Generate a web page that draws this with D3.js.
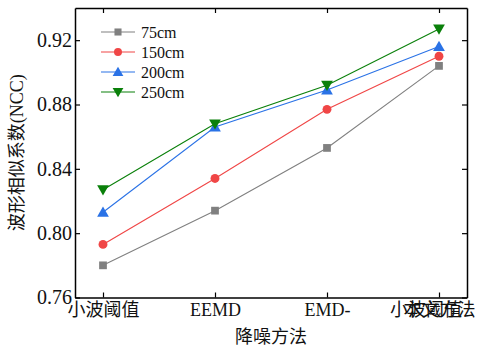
<!DOCTYPE html>
<html><head><meta charset="utf-8">
<script src="https://cdn.jsdelivr.net/npm/d3@7"></script>
<style>body{margin:0;background:#fff}svg{display:block}
.sf{font-family:"Liberation Serif","Times New Roman","Noto Sans CJK SC",serif}</style>
</head><body>
<svg id="c" width="480" height="353"></svg>
<script>
const categories = ["小波阈值", "EEMD", "EMD-", "本文方法"];
const overflowLabel = "小波阈值";
const seriesNames = ["75cm", "150cm", "200cm", "250cm"];
const s75  = [0.780, 0.814, 0.853, 0.904];
const s150 = [0.793, 0.834, 0.877, 0.910];
const s200 = [0.813, 0.866, 0.889, 0.916];
const s250 = [0.827, 0.868, 0.892, 0.927];
const yTicks = [0.76, 0.80, 0.84, 0.88, 0.92];
const xTitle = "降噪方法";
const yTitle = "波形相似系数(NCC)";

(function () {
const colors = ["#808080", "#f04646", "#2a72e6", "#0a800a"];
const symbols = [d3.symbolSquare, d3.symbolCircle, d3.symbolTriangle, d3.symbolTriangle];
const rotations = [0, 0, 0, 180];
const seriesData = [s75, s150, s200, s250];

const svg = d3.select("#c");
const m = {l: 75, r: 467, t: 8, b: 297.5};
const x = d3.scalePoint().domain(categories).range([m.l, m.r]).padding(0.25);
const y = d3.scaleLinear().domain([0.76, 0.94]).range([m.b, m.t]);

seriesData.forEach((vals, i) => {
  const pts = vals.map((v, j) => [x(categories[j]), y(v)]);
  svg.append("path").attr("d", d3.line()(pts)).attr("fill", "none")
    .attr("stroke", colors[i]).attr("stroke-width", 1.1);
  const sym = d3.symbol().type(symbols[i]).size(i === 1 ? 62 : 60);
  svg.selectAll(null).data(pts).enter().append("path")
    .attr("d", sym)
    .attr("transform", d => `translate(${d[0]},${d[1] + (i===2?1:(i===3?-1:0))}) rotate(${rotations[i]})`)
    .attr("fill", colors[i]);
});

const tl = 5;
const axL = d3.axisLeft(y).tickValues(yTicks).tickFormat(d3.format(".2f")).tickSizeInner(-tl).tickSizeOuter(0).tickPadding(3);
const axR = d3.axisRight(y).tickValues(yTicks).tickFormat("").tickSizeInner(-tl).tickSizeOuter(0);
const axB = d3.axisBottom(x).tickSizeInner(-tl).tickSizeOuter(0).tickPadding(6);
const axT = d3.axisTop(x).tickFormat("").tickSizeInner(-tl).tickSizeOuter(0);

const gL = svg.append("g").attr("transform", `translate(${m.l},0)`).call(axL);
const gR = svg.append("g").attr("transform", `translate(${m.r},0)`).call(axR);
const gB = svg.append("g").attr("transform", `translate(0,${m.b})`).call(axB);
const gT = svg.append("g").attr("transform", `translate(0,${m.t})`).call(axT);
[gL, gR, gB, gT].forEach(g => {
  g.attr("font-family", null);
  g.selectAll(".domain").attr("stroke", "#000").attr("stroke-width", 1.5);
  g.selectAll(".tick line").attr("stroke", "#000").attr("stroke-width", 1.2);
});
gL.selectAll("text").attr("class", "sf").attr("font-size", 20).attr("fill", "#111");
gB.selectAll("text").attr("class", "sf").attr("font-size", 18).attr("fill", "#111");

svg.append("text").attr("class", "sf").attr("x", x(categories[3]) - 13).attr("y", m.b + 6)
  .attr("dy", "0.71em")
  .attr("text-anchor", "middle").attr("font-size", 18)
  .attr("fill", "#111").text(overflowLabel);

svg.append("text").attr("class", "sf").attr("x", (m.l + m.r) / 2).attr("y", 343)
  .attr("text-anchor", "middle").attr("font-size", 18)
  .attr("fill", "#111").text(xTitle);
svg.append("text").attr("class", "sf").attr("transform", `translate(23,${(m.t + m.b) / 2}) rotate(-90)`)
  .attr("text-anchor", "middle").attr("font-size", 18)
  .attr("fill", "#111").text(yTitle);

const lg = svg.append("g").attr("transform", "translate(101,32)");
seriesNames.forEach((n, i) => {
  const g = lg.append("g").attr("transform", `translate(0,${i * 20})`);
  g.append("line").attr("x1", 0).attr("x2", 34).attr("stroke", colors[i]).attr("stroke-width", 1.1);
  g.append("path").attr("d", d3.symbol().type(symbols[i]).size(50))
    .attr("transform", `translate(17,${i===2?1:(i===3?-1:0)}) rotate(${rotations[i]})`).attr("fill", colors[i]);
  g.append("text").attr("class", "sf").attr("x", 40).attr("y", 0).attr("dy", "0.35em")
    .attr("font-size", 16).attr("fill", "#111").text(n);
});
})();
</script>
</body></html>
